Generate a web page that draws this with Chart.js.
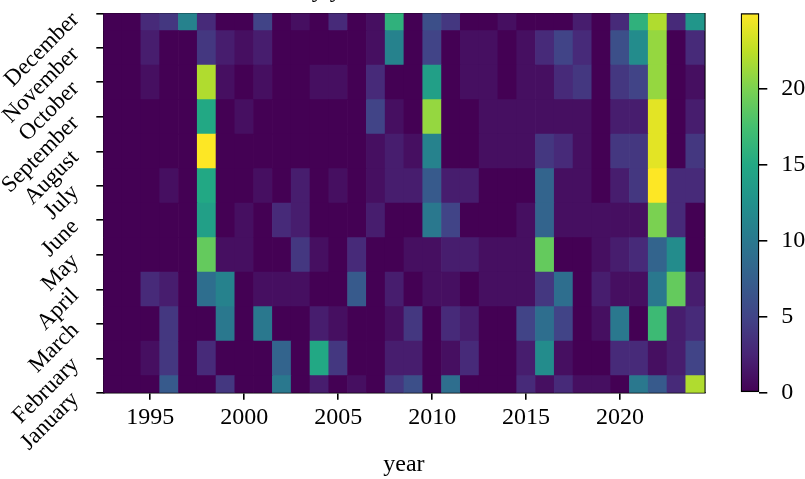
<!DOCTYPE html>
<html>
<head>
<meta charset="utf-8">
<script src="https://cdn.jsdelivr.net/npm/chart.js@4.4.0/dist/chart.umd.min.js"></script>
<style>
html,body{margin:0;padding:0;background:#fff;}
#wrap{position:relative;width:805px;height:479px;overflow:hidden;}
#main{position:absolute;left:0;top:-30px;}
#cbar{position:absolute;left:720px;top:0;}
</style>
</head>
<body>
<div id="wrap">
<canvas id="main" width="720" height="509" style="width:720px;height:509px"></canvas>
<canvas id="cbar" width="85" height="479" style="width:85px;height:479px"></canvas>
</div>
<script>
// data (counts per month and year)
const years = [1993,1994,1995,1996,1997,1998,1999,2000,2001,2002,2003,2004,2005,2006,2007,2008,
               2009,2010,2011,2012,2013,2014,2015,2016,2017,2018,2019,2020,2021,2022,2023,2024];
const monthNames = ["January","February","March","April","May","June","July","August","September","October","November","December"];

const jan = [0,0,0,7,0,0,4,0, 0,10,0,2,0,1,0,4, 6,0,9,0,0,0,3,1, 3,1,1,0,10,7,3,22];
const feb = [0,0,1,4,0,3,0,0, 0,8,0,15,4,0,0,2, 2,0,1,3,0,0,2,12, 1,0,0,3,3,1,2,5];
const mar = [0,0,0,4,0,0,10,0, 10,0,0,2,1,0,0,1, 4,0,3,2,0,0,5,9, 5,0,1,10,0,17,2,3];
const apr = [0,0,3,2,0,9,11,0, 1,1,1,0,0,7,0,2, 0,1,1,0,1,1,1,4, 9,0,2,1,1,10,19,2];
const may = [0,0,0,0,0,19,1,1, 0,0,4,1,0,3,0,0, 1,1,2,2,1,1,1,19, 0,0,1,2,3,8,12,0];
const jun = [0,0,0,0,0,14,0,1, 0,3,2,0,0,0,2,0, 0,10,5,0,0,0,1,8, 1,1,1,1,1,20,3,0];
const jul = [0,0,0,1,0,15,0,0, 1,0,2,0,1,0,1,2, 2,7,2,2,0,0,0,8, 1,1,0,2,4,25,3,3];
const aug = [0,0,0,0,0,25,0,0, 0,0,0,0,0,0,1,2, 1,11,0,0,1,1,1,4, 3,1,0,4,4,24,0,4];
const sep = [0,0,0,0,0,15,0,1, 0,0,0,0,0,0,5,1, 0,21,0,0,1,1,1,1, 1,1,0,2,2,24,0,2];
const oct = [0,0,1,0,0,22,1,0, 1,0,0,1,1,0,3,0, 0,14,0,1,1,0,1,1, 3,4,0,4,5,21,0,1];
const nov = [0,0,2,0,0,4,2,1, 2,0,0,0,0,0,1,11, 0,5,0,1,1,0,1,3, 5,3,0,6,12,21,0,3];
const dec = [0,0,3,4,11,3,0,0, 5,0,1,0,3,0,1,16, 0,6,4,0,0,1,0,0, 0,2,0,3,16,22,3,13];

const yearTicks = [1995,2000,2005,2010,2015,2020];
const cbarTicks = [0,5,10,15,20];
const cbarRange = [0,25];

const monthValues = [jan,feb,mar,apr,may,jun,jul,aug,sep,oct,nov,dec];

// viridis colormap
const viridisStops = ["#440154","#482475","#414487","#355f8d","#2a788e","#21918c","#22a884","#44bf70","#7ad151","#bddf26","#fde725"];
function hexRgb(h){ return [parseInt(h.slice(1,3),16),parseInt(h.slice(3,5),16),parseInt(h.slice(5,7),16)]; }
function viridis(t){
    t = Math.max(0, Math.min(1, t));
    const p = t*10;
    const i = Math.min(9, Math.floor(p));
    const f = p - i;
    const a = hexRgb(viridisStops[i]), b = hexRgb(viridisStops[i+1]);
    const c = a.map((v,k)=>Math.round(v + (b[k]-v)*f));
    return "rgb("+c.join(",")+")";
}

const serif = "'Liberation Serif', 'Times New Roman', serif";
const black = "#000";

const datasets = monthNames.map((name, mi) => ({
    label: name,
    data: years.map(yr => ({x: yr, y: [mi+0.5, mi+1.5]})),
    backgroundColor: monthValues[mi].map(v => viridis((v-cbarRange[0])/(cbarRange[1]-cbarRange[0]))),
    borderWidth: 0,
    barPercentage: 1,
    categoryPercentage: 1,
    grouped: false,
    clip: 0
}));

new Chart(document.getElementById("main"), {
    type: "bar",
    data: {datasets: datasets},
    options: {
        responsive: false,
        animation: false,
        layout: {padding: {left: 0, right: 15.4, top: 0, bottom: 0}},
        plugins: {
            legend: {display: false},
            tooltip: {enabled: false},
            title: {
                display: true,
                text: "Counts by year and month",
                color: black,
                font: {family: serif, size: 24, weight: "normal"},
                padding: {top: 6.3, bottom: 8.2}
            }
        },
        scales: {
            x: {
                type: "linear",
                position: "bottom",
                min: 1992.5,
                max: 2024.5,
                offset: false,
                afterBuildTicks: s => { s.ticks = yearTicks.map(v => ({value: v})); },
                afterFit: s => { s.height = 86.2; },
                ticks: {
                    callback: v => String(v),
                    color: black,
                    font: {family: serif, size: 24},
                    padding: 4,
                    maxRotation: 0,
                    autoSkip: false
                },
                grid: {drawOnChartArea: false, drawTicks: true, tickLength: 7, color: black, lineWidth: 1.6, offset: false},
                border: {color: black, width: 1.6},
                title: {display: true, text: "year", color: black, font: {family: serif, size: 24}, padding: 0}
            },
            y: {
                type: "linear",
                position: "left",
                min: 1,
                max: 12,
                afterBuildTicks: s => { s.ticks = monthNames.map((m, i) => ({value: i+1})); },
                afterFit: s => { s.width = 103.3; },
                ticks: {
                    callback: v => monthNames[v-1],
                    color: black,
                    font: {family: serif, size: 23},
                    minRotation: 45,
                    maxRotation: 45,
                    padding: 21,
                    labelOffset: 3,
                    autoSkip: false
                },
                grid: {drawOnChartArea: false, drawTicks: true, tickLength: 7, color: black, lineWidth: 1.6},
                border: {color: black, width: 1.6}
            },
            xTop: {
                type: "linear",
                position: "top",
                ticks: {display: false},
                grid: {display: false, drawTicks: false},
                border: {color: black, width: 1.6},
                afterFit: s => { s.height = 0; }
            },
            yRight: {
                type: "linear",
                position: "right",
                ticks: {display: false},
                grid: {display: false, drawTicks: false},
                border: {color: black, width: 1.6},
                afterFit: s => { s.width = 0; }
            }
        }
    }
});

// colorbar
new Chart(document.getElementById("cbar"), {
    type: "bar",
    data: {
        labels: [""],
        datasets: [{
            data: [cbarRange],
            backgroundColor: ctx => {
                const a = ctx.chart.chartArea;
                if (!a) return viridisStops[0];
                const g = ctx.chart.ctx.createLinearGradient(0, a.bottom, 0, a.top);
                viridisStops.forEach((c, i) => g.addColorStop(i/10, c));
                return g;
            },
            borderColor: black,
            borderWidth: 1.6,
            borderSkipped: false,
            barPercentage: 1,
            categoryPercentage: 1
        }]
    },
    options: {
        responsive: false,
        animation: false,
        layout: {padding: {left: 20.7, right: 0, top: 13.3, bottom: 86.2}},
        plugins: {legend: {display: false}, tooltip: {enabled: false}},
        scales: {
            x: {display: false},
            y: {
                position: "right",
                min: cbarRange[0],
                max: cbarRange[1],
                afterBuildTicks: s => { s.ticks = cbarTicks.map(v => ({value: v})); },
                afterFit: s => { s.width = 45.7; s.paddingTop = 0; s.paddingBottom = 0; },
                ticks: {color: black, font: {family: serif, size: 24}, padding: 14, callback: v => String(v)},
                grid: {drawOnChartArea: false, drawTicks: true, tickLength: 8, color: black, lineWidth: 1.6},
                border: {display: false}
            }
        }
    }
});
</script>
</body>
</html>
